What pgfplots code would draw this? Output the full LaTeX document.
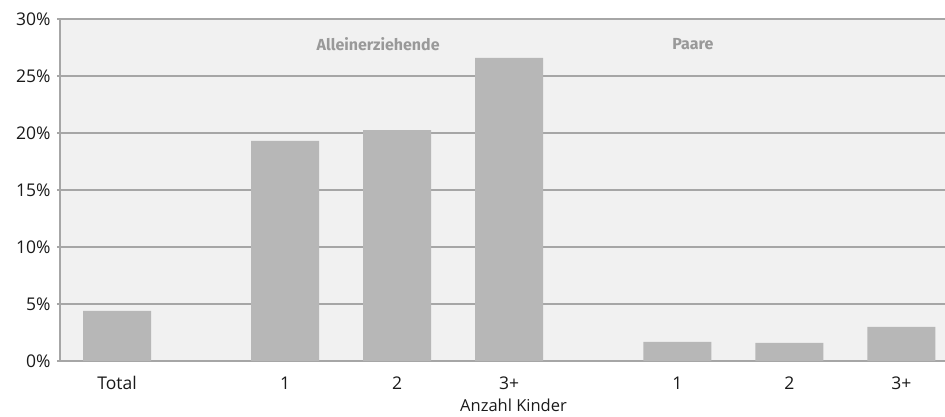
\documentclass[border=0pt]{standalone}
\usepackage{pgfplots}
\pgfplotsset{compat=1.18}
\usepackage{fontspec}
\setmainfont{Open Sans}
\newfontfamily\grpfont{Fira Sans}
\definecolor{bg}{HTML}{F1F1F1}
\definecolor{barc}{HTML}{B7B7B7}
\definecolor{gridc}{HTML}{A6A6A6}
\definecolor{lab}{HTML}{999999}
\definecolor{txt}{HTML}{1A1A1A}
\begin{document}
\begin{tikzpicture}
\path[use as bounding box] (-60pt,-56pt) rectangle (885pt,361pt);
\begin{axis}[
  at={(0,0)}, anchor=south west,
  scale only axis, width=885pt, height=342pt,
  xmin=-0.51, xmax=7.39, ymin=0, ymax=30,
  axis background/.style={fill=bg},
  axis x line*=bottom, axis y line*=left,
  axis line style={gridc, line width=1.5pt},
  ymajorgrids, grid style={gridc, line width=1.3pt},
  ytick={0,5,10,15,20,25,30},
  yticklabels={0\%,5\%,10\%,15\%,20\%,25\%,30\%},
  xtick={0,1.5,2.5,3.5,5,6,7},
  xticklabels={Total,1,2,3+,1,2,3+},
  tick align=outside, major tick length=3pt,
  ytick style={gridc, line width=1.3pt},
  xtick style={draw=none},
  tick label style={font=\fontsize{17.5}{20}\selectfont, text=txt},
  yticklabel style={xshift=-3pt},
  xticklabel style={yshift=-9pt},
  xlabel={Anzahl Kinder},
  xlabel style={font=\fontsize{16.5}{19}\selectfont, text=txt, yshift=-2pt, xshift=11pt},
  clip=false,
]
\addplot[ybar, bar width=0.607, fill=barc, draw=none] coordinates {
  (0,4.39) (1.5,19.3) (2.5,20.26) (3.5,26.6) (5,1.67) (6,1.58) (7,3.0)
};
\node[font=\grpfont\bfseries\fontsize{16}{18}\selectfont, text=lab] at (axis cs:2.33,27.8) {Alleinerziehende};
\node[font=\grpfont\bfseries\fontsize{16}{18}\selectfont, text=lab] at (axis cs:5.14,27.8) {Paare};
\end{axis}
\end{tikzpicture}
\end{document}
